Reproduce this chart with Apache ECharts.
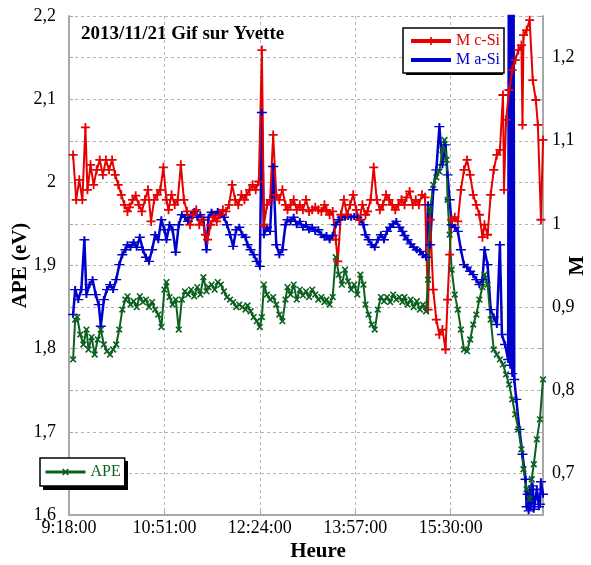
<!DOCTYPE html>
<html lang="fr">
<head>
<meta charset="UTF-8">
<script src="https://cdn.jsdelivr.net/npm/echarts@6/dist/echarts.min.js"></script>
<title>APE - Gif sur Yvette</title>
</head>
<body style="margin:0">
<div id="main" style="width:591px;height:565px;"></div>
<script type="text/javascript">
// M c-Si (axe de droite)
var redTimes = ['9:22','9:25','9:28','9:31','9:34','9:36','9:39','9:42','9:45','9:48',
    '9:51','9:54','9:57','10:00','10:03','10:06','10:09','10:12','10:15','10:17',
    '10:20','10:23','10:26','10:29','10:32','10:35','10:38','10:41','10:44','10:47',
    '10:50','10:53','10:55','10:58','11:01','11:04','11:07','11:10','11:13','11:16',
    '11:19','11:22','11:25','11:28','11:31','11:33','11:36','11:39','11:42','11:45',
    '11:48','11:51','11:54','11:57','12:00','12:03','12:06','12:09','12:11','12:14',
    '12:17','12:20','12:23','12:26','12:28','12:31','12:34','12:37','12:40','12:43',
    '12:46','12:49','12:51','12:54','12:57','13:00','13:03','13:06','13:09','13:12',
    '13:15','13:18','13:21','13:24','13:27','13:29','13:32','13:35','13:38','13:40',
    '13:43','13:46','13:49','13:52','13:55','13:58','14:01','14:04','14:07','14:09',
    '14:12','14:15','14:18','14:21','14:24','14:27','14:30','14:33','14:36','14:39',
    '14:42','14:45','14:47','14:50','14:53','14:56','14:59','15:02','15:05','15:08',
    '15:10','15:13','15:16','15:19','15:22','15:25','15:27','15:29','15:31','15:34',
    '15:37','15:40','15:43','15:46','15:49','15:52','15:55','15:58','16:01','16:03',
    '16:06','16:09','16:12','16:15','16:18','16:21','16:22','16:24','16:27','16:30',
    '16:33','16:36','16:39','16:40','16:41','16:44','16:47','16:50','16:53','16:55',
    '16:58','17:00'];
var redValues = [1.083,1.029,1.053,1.029,1.116,1.041,1.071,1.047,1.065,1.077,
    1.059,1.077,1.065,1.077,1.059,1.047,1.035,1.023,1.015,1.020,
    1.029,1.034,1.023,1.015,1.029,1.041,1.003,1.029,1.035,1.041,
    1.068,1.029,1.017,1.035,1.023,1.029,1.071,1.029,1.015,0.999,
    1.011,1.017,0.999,1.005,0.987,0.981,0.999,1.008,1.003,1.011,
    1.017,1.015,1.023,1.047,1.029,1.023,1.035,1.029,1.035,1.041,
    1.047,1.041,1.051,1.209,0.999,1.023,1.029,1.107,1.035,1.029,
    1.041,1.023,1.017,1.023,1.029,1.017,1.023,1.017,1.029,1.015,
    1.017,1.020,1.017,1.015,1.023,1.017,1.011,1.015,0.981,0.955,
    1.011,1.029,1.011,1.023,1.035,1.017,1.005,1.023,1.011,1.015,
    1.029,1.068,1.029,1.017,1.023,1.035,1.029,1.023,1.017,1.023,
    1.029,1.023,1.032,1.039,1.023,1.029,1.023,1.035,1.032,0.897,
    1.005,0.921,0.885,0.867,0.873,0.849,0.909,0.963,1.005,1.008,
    1.003,1.041,1.065,1.077,1.059,1.035,1.023,1.011,0.984,0.999,
    0.987,1.035,1.065,1.083,1.089,1.155,1.041,1.125,1.161,1.185,
    1.197,1.209,1.215,1.119,1.227,1.233,1.245,1.173,1.149,1.119,
    1.005,1.101];

// M a-Si (axe de droite)
var blueTimes = ['9:22','9:24','9:27','9:30','9:33','9:35','9:38','9:41','9:44','9:47',
    '9:49','9:52','9:55','9:58','10:01','10:04','10:07','10:10','10:13','10:15',
    '10:18','10:21','10:24','10:27','10:30','10:33','10:36','10:39','10:42','10:45',
    '10:48','10:51','10:53','10:56','10:59','11:02','11:05','11:08','11:11','11:14',
    '11:17','11:20','11:23','11:26','11:29','11:32','11:34','11:37','11:40','11:43',
    '11:46','11:49','11:52','11:55','11:58','12:01','12:04','12:07','12:10','12:12',
    '12:15','12:18','12:21','12:24','12:26','12:28','12:31','12:34','12:37','12:40',
    '12:43','12:46','12:49','12:51','12:54','12:57','13:00','13:03','13:06','13:09',
    '13:12','13:15','13:18','13:21','13:24','13:27','13:29','13:32','13:35','13:38',
    '13:41','13:44','13:47','13:50','13:53','13:56','13:59','14:02','14:05','14:07',
    '14:10','14:13','14:16','14:19','14:22','14:25','14:28','14:31','14:34','14:37',
    '14:40','14:43','14:45','14:48','14:51','14:54','14:57','15:00','15:03','15:06',
    '15:08','15:10','15:13','15:16','15:19','15:22','15:25','15:27','15:29','15:31',
    '15:34','15:37','15:40','15:43','15:46','15:49','15:52','15:55','15:58','16:01',
    '16:03','16:06','16:09','16:12','16:15','16:18','16:20','16:23','16:26','16:27',
    '16:28','16:29','16:30','16:31','16:32','16:34','16:37','16:40','16:43','16:44',
    '16:45','16:46','16:47','16:48','16:50','16:51','16:53','16:54','16:56','16:57',
    '16:58','17:00'];
var blueValues = [0.891,0.921,0.909,0.921,0.981,0.915,0.927,0.933,0.915,0.903,
    0.877,0.909,0.921,0.927,0.921,0.933,0.951,0.963,0.969,0.975,
    0.972,0.978,0.972,0.984,0.969,0.960,0.955,0.969,0.987,0.981,
    1.005,0.993,0.981,0.999,0.993,0.966,0.999,1.011,1.008,1.003,
    1.011,1.015,1.008,1.011,1.005,0.969,1.008,1.014,1.011,1.015,
    1.011,1.008,0.999,0.987,0.973,0.993,0.996,0.987,0.984,0.975,
    0.969,0.963,0.955,0.949,1.134,0.987,0.996,0.991,1.069,0.975,
    0.963,0.969,0.999,1.005,1.003,1.008,0.999,1.003,0.996,0.999,
    0.993,0.996,0.991,0.993,0.987,0.984,0.986,0.981,0.986,0.999,
    1.005,1.008,1.008,1.009,1.008,1.009,1.008,1.005,0.999,0.987,
    0.981,0.975,0.972,0.981,0.987,0.981,0.991,0.996,1.000,1.003,
    0.996,0.991,0.986,0.981,0.976,0.972,0.969,0.967,0.963,0.960,
    1.023,0.975,1.041,1.065,1.117,1.071,1.095,1.059,1.029,0.999,
    0.996,0.991,0.969,0.951,0.948,0.943,0.939,0.933,0.927,0.933,
    0.969,0.951,0.897,0.888,0.879,0.975,0.867,0.855,0.837,1.5,
    0.830,1.5,0.820,1.5,0.813,0.789,0.753,0.723,0.693,0.660,
    0.675,0.655,0.680,0.660,0.685,0.657,0.672,0.681,0.660,0.663,
    0.690,0.675];

// APE (axe de gauche, eV)
var greenTimes = ['9:22','9:24','9:26','9:29','9:32','9:35','9:37','9:40','9:43','9:46',
    '9:49','9:52','9:55','9:58','10:01','10:04','10:07','10:10','10:13','10:15',
    '10:18','10:21','10:24','10:27','10:30','10:33','10:36','10:39','10:42','10:45',
    '10:48','10:51','10:53','10:56','10:59','11:02','11:05','11:08','11:11','11:14',
    '11:17','11:20','11:23','11:26','11:29','11:32','11:34','11:37','11:40','11:43',
    '11:46','11:49','11:52','11:55','11:58','12:01','12:04','12:07','12:10','12:12',
    '12:15','12:18','12:21','12:24','12:26','12:28','12:31','12:34','12:37','12:40',
    '12:43','12:46','12:49','12:51','12:54','12:57','13:00','13:03','13:06','13:09',
    '13:12','13:15','13:18','13:21','13:24','13:27','13:29','13:32','13:35','13:38',
    '13:41','13:44','13:47','13:50','13:53','13:56','13:59','14:02','14:05','14:07',
    '14:10','14:13','14:16','14:19','14:22','14:25','14:28','14:31','14:34','14:37',
    '14:40','14:43','14:45','14:48','14:51','14:54','14:57','15:00','15:03','15:06',
    '15:08','15:10','15:13','15:16','15:19','15:22','15:24','15:26','15:27','15:29',
    '15:31','15:34','15:37','15:40','15:43','15:46','15:49','15:52','15:55','15:58',
    '16:01','16:03','16:06','16:09','16:12','16:15','16:18','16:21','16:24','16:27',
    '16:30','16:33','16:36','16:39','16:41','16:44','16:47','16:49','16:51','16:54',
    '16:57','17:00'];
var greenValues = [1.787,1.835,1.838,1.817,1.805,1.823,1.799,1.814,1.793,1.811,
    1.823,1.805,1.797,1.793,1.799,1.805,1.823,1.847,1.859,1.863,
    1.853,1.857,1.850,1.863,1.856,1.859,1.850,1.856,1.847,1.841,
    1.826,1.871,1.880,1.862,1.853,1.859,1.823,1.859,1.869,1.865,
    1.871,1.863,1.874,1.865,1.886,1.869,1.874,1.877,1.871,1.880,
    1.877,1.869,1.862,1.859,1.856,1.850,1.853,1.850,1.847,1.852,
    1.845,1.838,1.833,1.826,1.838,1.877,1.865,1.859,1.862,1.853,
    1.841,1.833,1.859,1.874,1.865,1.877,1.859,1.871,1.864,1.869,
    1.862,1.871,1.865,1.859,1.862,1.856,1.859,1.853,1.862,1.910,
    1.889,1.877,1.895,1.881,1.871,1.877,1.865,1.889,1.877,1.853,
    1.841,1.829,1.823,1.847,1.862,1.857,1.862,1.856,1.865,1.859,
    1.862,1.856,1.862,1.853,1.859,1.850,1.857,1.847,1.853,1.845,
    1.883,1.967,1.997,2.006,2.013,2.039,2.051,2.027,1.979,1.937,
    1.895,1.865,1.847,1.823,1.799,1.797,1.811,1.829,1.841,1.859,
    1.874,1.889,1.877,1.835,1.799,1.793,1.787,1.781,1.769,1.757,
    1.739,1.721,1.703,1.679,1.655,1.631,1.619,1.643,1.661,1.691,
    1.715,1.763];

var xTickStep = 93;          // 1h33
var xStart = 9 * 60 + 18;    // 9:18:00
var xEnd = 17 * 60;

var RED = '#e60000', BLUE = '#0000cc', GREEN = '#0b6120';
var FONT = 'Liberation Serif';
var plusPath = 'path://M4,0h2v10h-2z M0,4h10v2h-10z';

function toMin(s) {
    var p = s.split(':');
    return parseInt(p[0], 10) * 60 + parseInt(p[1], 10);
}
function pairs(t, v) {
    var out = [];
    for (var i = 0; i < t.length; i++) out.push([toMin(t[i]), v[i]]);
    return out;
}
function fmtDec(v) {
    if (Math.round(v * 100) % 10 !== 0) return '';
    return String(Math.round(v * 10) / 10).replace('.', ',');
}
function fmtTime(v) {
    var h = Math.floor(v / 60), m = Math.round(v % 60);
    return h + ':' + (m < 10 ? '0' : '') + m + ':00';
}

var gridLine = {show: true, lineStyle: {color: '#b4b4b4', type: [3, 3], width: 1}};
var axisLine = {show: true, lineStyle: {color: '#a8a8a8', width: 2}};
var axisTick = {show: true, inside: true, length: 4, lineStyle: {color: '#a8a8a8'}};
var labelStyle = {fontFamily: FONT, fontSize: 18, color: '#000'};
var nameStyle = {fontFamily: FONT, fontSize: 21, fontWeight: 'bold', color: '#000'};
var legendBox = {
    orient: 'vertical', backgroundColor: '#fff', borderColor: '#000', borderWidth: 1.5,
    itemWidth: 40, itemHeight: 10, itemGap: 3, z: 10,
    textStyle: {fontFamily: FONT, fontSize: 16}
};

var myChart = echarts.init(document.getElementById('main'));
myChart.setOption({
    animation: false,
    backgroundColor: '#fff',
    title: {
        text: '2013/11/21 Gif sur Yvette', left: 76, top: 20,
        textStyle: {fontFamily: FONT, fontSize: 19, fontWeight: 'bold', color: '#000'}
    },
    // ombres des deux cadres de légende
    graphic: [
        {type: 'rect', left: 406, top: 31, z: 9, shape: {width: 97, height: 44}, style: {fill: '#000'}},
        {type: 'rect', left: 43, top: 461, z: 9, shape: {width: 85, height: 29}, style: {fill: '#000'}}
    ],
    legend: [
        Object.assign({}, legendBox, {
            left: 403, top: 28, padding: [5, 4, 5, 6],
            data: [
                {name: 'M c-Si', textStyle: {color: RED}, lineStyle: {width: 4}},
                {name: 'M a-Si', textStyle: {color: BLUE}, icon: 'path://M0,0h40v4h-40z'}
            ]
        }),
        Object.assign({}, legendBox, {
            left: 40, top: 458, padding: [6, 4, 6, 4],
            data: [{name: 'APE', textStyle: {color: GREEN}, lineStyle: {width: 3}}]
        })
    ],
    grid: {left: 69, right: 48, top: 16, bottom: 50, outerBoundsMode: 'none'},
    xAxis: {
        type: 'value', min: xStart, max: xEnd, interval: xTickStep,
        name: 'Heure', nameLocation: 'middle', nameGap: 26, nameMoveOverlap: false,
        nameTextStyle: Object.assign({padding: [0, 0, 0, 24]}, nameStyle),
        axisLine: axisLine, axisTick: axisTick, splitLine: gridLine,
        axisLabel: Object.assign({formatter: fmtTime, margin: 4, showMaxLabel: false}, labelStyle)
    },
    yAxis: [
        {
            type: 'value', position: 'left', min: 1.6, max: 2.2, interval: 0.05,
            name: 'APE (eV)', nameLocation: 'middle', nameGap: 38, nameMoveOverlap: false,
            nameTextStyle: nameStyle,
            axisLine: axisLine, axisTick: axisTick, splitLine: gridLine,
            axisLabel: Object.assign({formatter: fmtDec, margin: 13}, labelStyle)
        },
        {
            type: 'value', position: 'right', min: 0.65, max: 1.25, interval: 0.05,
            name: 'M', nameLocation: 'middle', nameGap: 24, nameMoveOverlap: false,
            nameTextStyle: nameStyle,
            axisLine: axisLine, axisTick: axisTick, splitLine: {show: false},
            axisLabel: Object.assign({formatter: fmtDec, margin: 9}, labelStyle)
        }
    ],
    series: [
        {
            name: 'M a-Si', type: 'line', yAxisIndex: 1,
            data: pairs(blueTimes, blueValues),
            symbol: plusPath, symbolSize: [10, 7],
            lineStyle: {width: 2.5, color: BLUE}, itemStyle: {color: BLUE}
        },
        {
            name: 'M c-Si', type: 'line', yAxisIndex: 1,
            data: pairs(redTimes, redValues),
            symbol: plusPath, symbolSize: 9,
            lineStyle: {width: 2, color: RED}, itemStyle: {color: RED}
        },
        {
            name: 'APE', type: 'line', yAxisIndex: 0,
            data: pairs(greenTimes, greenValues),
            symbol: plusPath, symbolSize: 8, symbolRotate: 45,
            lineStyle: {width: 2, color: GREEN}, itemStyle: {color: GREEN}
        }
    ]
});
</script>
</body>
</html>
